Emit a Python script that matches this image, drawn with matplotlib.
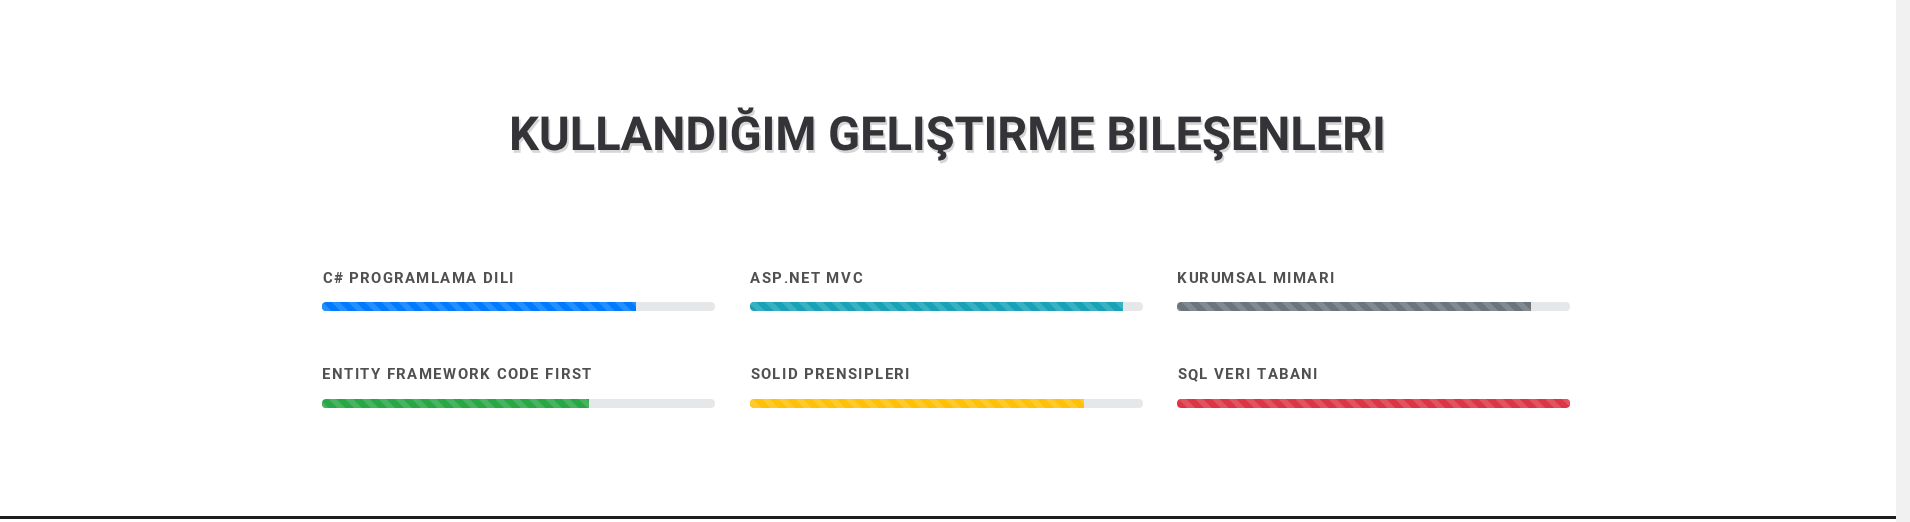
import matplotlib.pyplot as plt
import matplotlib.patheffects as pe
from matplotlib.patches import FancyBboxPatch, Rectangle
from matplotlib.font_manager import FontProperties, findfont, get_font

plt.rcParams['font.family'] = ['Roboto', 'DejaVu Sans']
plt.rcParams['hatch.linewidth'] = 4.0

# data
title = 'KULLANDIĞIM GELIŞTIRME BILEŞENLERI'
skills = ['C# PROGRAMLAMA DILI', 'ASP.NET MVC', 'KURUMSAL MIMARI',
          'ENTITY FRAMEWORK CODE FIRST', 'SOLID PRENSIPLERI', 'SQL VERI TABANI']
percent = [80, 95, 90, 68, 85, 100]
colors = ['#007bff', '#17a2b8', '#6c757d', '#28a745', '#ffc107', '#dc3545']

# layout (pixels)
col_x = [322, 750, 1177]
bar_w = 393
bar_h = 9
label_y = [283, 379]
bar_y = [306.5, 403.5]
label_size = 10.7
label_spacing = 1.45


def stripe(c, a=0.15):
    # white at 15% over the bar colour, like the bootstrap stripes
    r, g, b = [int(c[i:i + 2], 16) / 255 for i in (1, 3, 5)]
    return (r + (1 - r) * a, g + (1 - g) * a, b + (1 - b) * a)


def spaced_text(ax, x, y, s, size, spacing, **kw):
    # letter-spacing by hand, using glyph advances
    fp = FontProperties(family='Roboto', weight='bold', size=size)
    font = get_font(findfont(fp))
    font.set_size(size, 100)
    for ch in s:
        if ch != ' ':
            ax.text(x, y, ch, fontproperties=fp, va='baseline', ha='left', **kw)
        x += font.load_char(ord(ch)).linearHoriAdvance / 65536 + spacing


fig = plt.figure(figsize=(19.1, 5.22), dpi=100)
ax = fig.add_axes([0, 0, 1, 1])
ax.set_xlim(0, 1910)
ax.set_ylim(522, 0)
ax.axis('off')

ax.text(948, 150, title, ha='center', va='baseline', fontsize=33.8,
        fontweight='bold', color='#333338',
        path_effects=[pe.withSimplePatchShadow(offset=(1.2, -2), shadow_rgbFace='#8a8a8a', alpha=0.35)])

for i, (name, pct, col) in enumerate(zip(skills, percent, colors)):
    r, c = divmod(i, 3)
    x0 = col_x[c]
    spaced_text(ax, x0, label_y[r], name, label_size, label_spacing, color='#505050')
    track = FancyBboxPatch((x0, bar_y[r] - bar_h / 2), bar_w, bar_h,
                           boxstyle='round,pad=0,rounding_size=4.5',
                           fc='#e6e7e8', ec='none')
    ax.add_patch(track)
    bars = ax.barh(bar_y[r], bar_w * pct / 100, left=x0, height=bar_h,
                   color=col, edgecolor=stripe(col), linewidth=0, hatch='\\\\')
    bars[0].set_clip_path(track)

# scrollbar and the dark edge of the next section
ax.add_patch(Rectangle((1896, 0), 14, 522, fc='#f1f1f1', ec='none'))
ax.add_patch(Rectangle((0, 516), 1896, 3, fc='#1e1e1e', ec='none'))

fig.savefig('out.png', dpi=100)
